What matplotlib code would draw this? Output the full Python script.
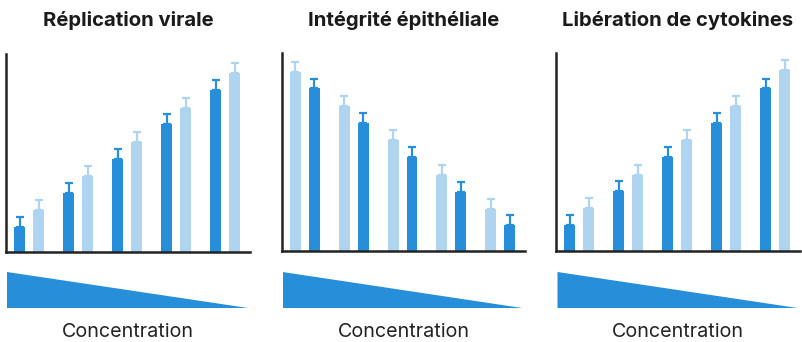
import matplotlib
matplotlib.use("Agg")
import matplotlib.pyplot as plt
import numpy as np

plt.rcParams['font.family'] = ['Inter', 'DejaVu Sans']

titles = ["Réplication virale", "Intégrité épithéliale", "Libération de cytokines"]
xlabel = "Concentration"

# valeurs (unités arbitraires, 0-100)
dark_1 = [12.6, 29.8, 47.0, 64.6, 81.8]
light_1 = [21.2, 38.4, 55.6, 72.7, 90.4]
dark_2 = [82.1, 64.6, 47.3, 29.8, 13.1]
light_2 = [90.4, 73.2, 56.1, 38.4, 21.2]
dark_3 = [13.1, 30.3, 47.5, 64.6, 82.1]
light_3 = [21.7, 38.4, 55.9, 73.2, 91.4]
err = [5.0, 5.0, 5.0, 5.0, 5.0]

DARK = "#278ed9"
LIGHT = "#aed4f0"

W, H = 803, 342
fig = plt.figure(figsize=(W / 100, H / 100), dpi=100)

# (left, right, top, bottom) in pixels
boxes = [(6, 250, 54, 252), (282, 525, 53, 251), (556, 800, 53, 251)]
wedges = [(7, 248), (282.5, 522), (557.5, 797.5)]
series = [(dark_1, light_1, False), (dark_2, light_2, True), (dark_3, light_3, False)]

x = np.arange(5)
bw = 11 / 49
off = 19 / 49 / 2

for k in range(3):
    l, r, t, b = boxes[k]
    ax = fig.add_axes([l / W, 1 - b / H, (r - l) / W, (b - t) / H])
    dark, light, light_first = series[k]
    if light_first:
        xl, xd = x - off, x + off
    else:
        xd, xl = x - off, x + off
    for xs, vals, c in [(xd, dark, DARK), (xl, light, LIGHT)]:
        ax.bar(xs, vals, width=bw, color=c, zorder=2)
        ax.errorbar(xs, vals, yerr=[np.zeros(5), err], fmt='none', ecolor=c,
                    elinewidth=1.6, capsize=3.2, capthick=1.6, zorder=1)
    ax.set_xlim(-0.47, 4.51)
    ax.set_ylim(0, 100)
    ax.set_xticks([])
    ax.set_yticks([])
    for s in ['top', 'right']:
        ax.spines[s].set_visible(False)
    for s in ['left', 'bottom']:
        ax.spines[s].set_linewidth(1.8)
        ax.spines[s].set_color("#222222")
    ax.patch.set_alpha(0)

    cx = (l + r) / 2
    fig.text(cx / W, 1 - 21 / H, titles[k], ha='center', va='center',
             fontsize=14.6, fontweight='bold', color="#1a1a1a")

    wl, wr = wedges[k]
    wax = fig.add_axes([wl / W, 1 - 308 / H, (wr - wl) / W, 36 / H])
    wax.fill([0, 0, 1], [0, 1, 0], color=DARK, lw=0)
    wax.set_xlim(0, 1)
    wax.set_ylim(0, 1)
    wax.axis('off')

    fig.text(cx / W, 1 - 332 / H, xlabel, ha='center', va='center',
             fontsize=14.2, color="#222222")

fig.savefig("out.png", dpi=100)
